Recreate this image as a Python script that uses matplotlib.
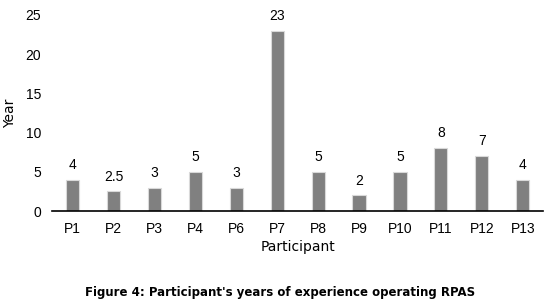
import matplotlib
matplotlib.use("Agg")
import matplotlib.pyplot as plt

participants = ["P1", "P2", "P3", "P4", "P6", "P7", "P8", "P9", "P10", "P11", "P12", "P13"]
years = [4, 2.5, 3, 5, 3, 23, 5, 2, 5, 8, 7, 4]
value_labels = ["4", "2.5", "3", "5", "3", "23", "5", "2", "5", "8", "7", "4"]
yticks = [0, 5, 10, 15, 20, 25]

plt.rcParams['font.family'] = ['Liberation Sans', 'DejaVu Sans']

fig = plt.figure(figsize=(5.6, 3.05), dpi=100)
ax = fig.add_axes([0.093, 0.308, 0.877, 0.643])
x = list(range(len(participants)))
bars = ax.bar(x, years, width=0.32, color='#808080', edgecolor='#d9d9d9', linewidth=0.8)
for xi, v, lab in zip(x, years, value_labels):
    ax.text(xi, v + 1.0, lab, ha='center', va='bottom', fontsize=10, color='#000000')
ax.set_xlim(-0.5, len(participants) - 0.5)
ax.set_ylim(0, 25)
ax.set_yticks(yticks)
ax.set_xticks(x)
ax.set_xticklabels(participants)
ax.tick_params(axis='both', length=0, labelsize=10, colors='#000000')
ax.tick_params(axis='y', pad=8)
ax.tick_params(axis='x', pad=8)
for s in ['top', 'right', 'left']:
    ax.spines[s].set_visible(False)
ax.spines['bottom'].set_linewidth(1.2)
ax.set_ylabel("Year", fontsize=10, family='DejaVu Sans', labelpad=6)
ax.set_xlabel("Participant", fontsize=10, family='DejaVu Sans', labelpad=3)
fig.text(0.5, 0.04, "Figure 4: Participant's years of experience operating RPAS",
         ha='center', va='center', fontsize=8.5, fontweight='bold', family='DejaVu Sans')
fig.savefig("out.png", dpi=100)
